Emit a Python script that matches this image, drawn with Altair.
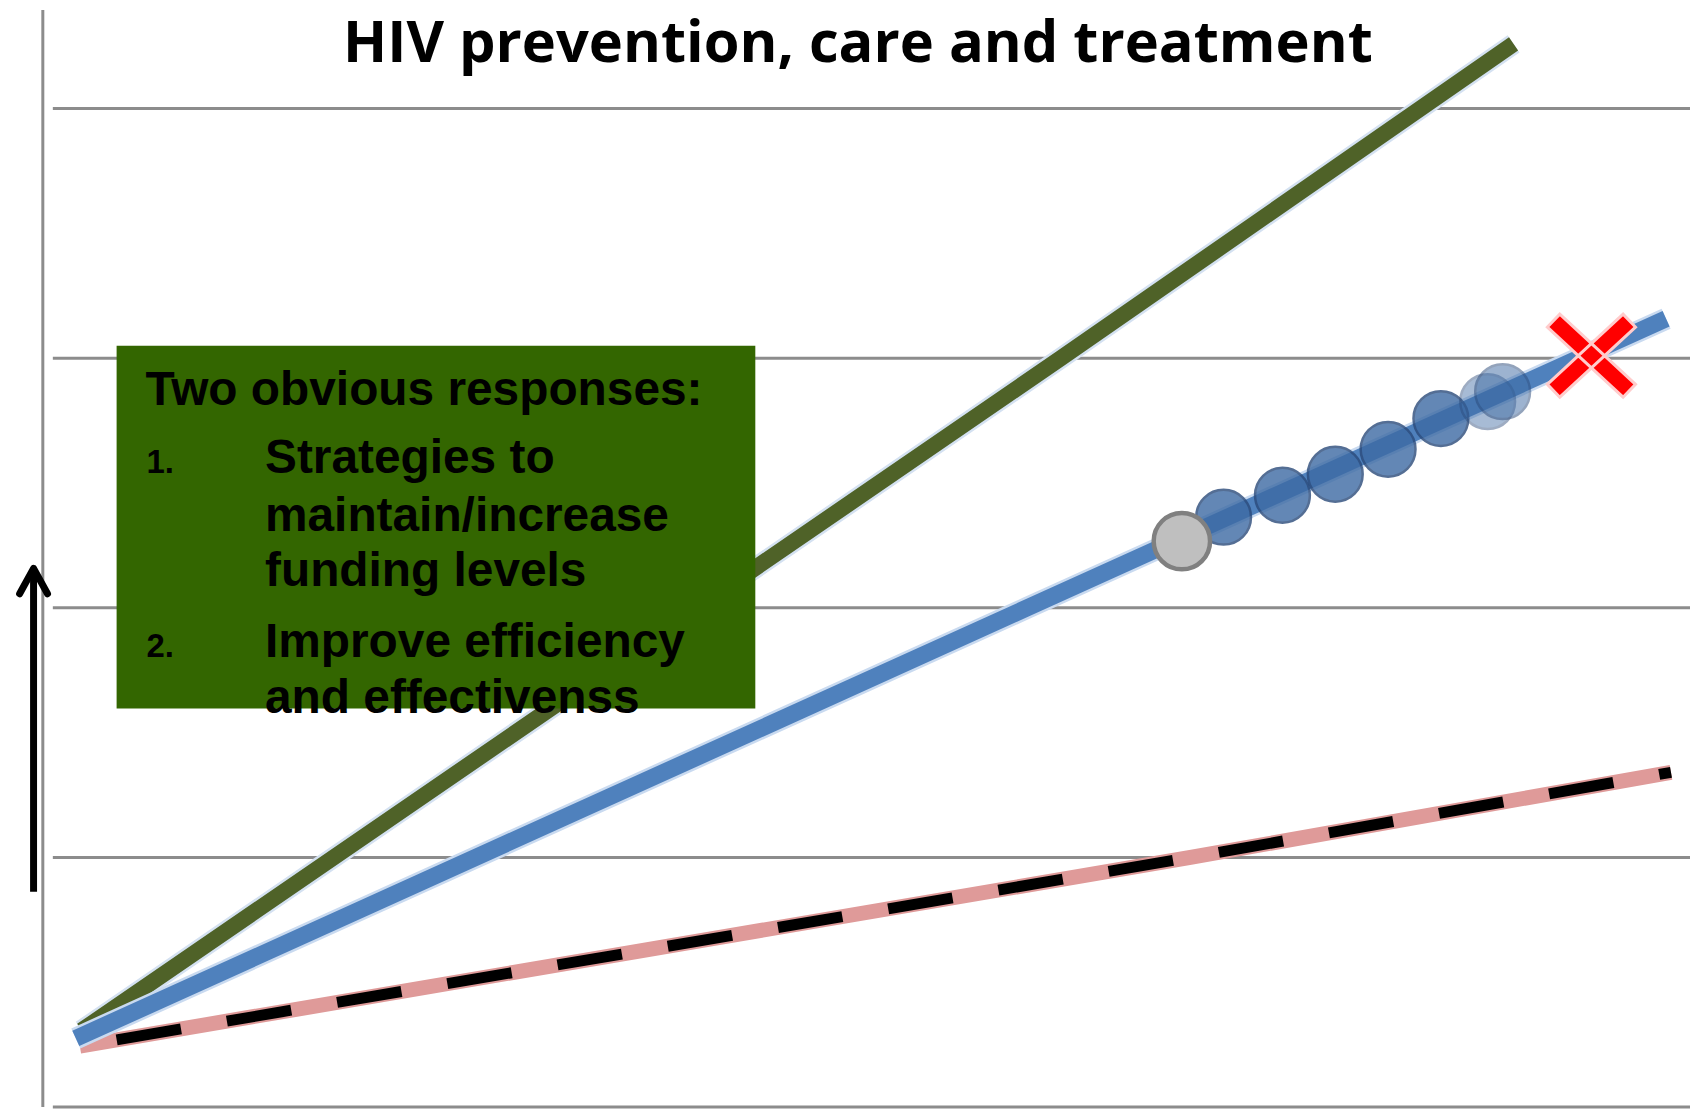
import altair as alt
import pandas as pd

# ---- data (x: time units 0-100, y: funding units) ----
title_text = ["HIV prevention, care and treatment"]
title_x = [50.53]
title_y = [4.188]

grid_y = [0, 1, 2, 3, 4]
grid_x0 = [2.666] * 5
grid_x1 = [100.0] * 5

axis_x = [2.07]
axis_y0 = [0.0]
axis_y1 = [4.395]

arrow_x = [1.52]
arrow_y0 = [0.862]
arrow_y1 = [2.144]
arrow_tip_y = [2.158]

green_x = [4.38, 62.6, 89.51]
green_y = [0.307, 3.0, 4.259]

blue_x = [4.03, 60.6, 98.58]
blue_y = [0.275, 2.0, 3.158]

pink_x = [4.27, 70.3, 98.87]
pink_y = [0.244, 1.0, 1.341]

gray_x = [69.79]
gray_y = [2.267]

dots_x = [72.27, 75.77, 78.91, 82.05, 85.19, 87.97, 88.86]
dots_y = [2.363, 2.451, 2.535, 2.635, 2.758, 2.826, 2.866]
dots_alpha = [0.8, 0.8, 0.8, 0.8, 0.8, 0.45, 0.5]

cross_x = [94.14]
cross_y = [3.010]

box_x0 = [6.457]
box_x1 = [44.43]
box_y0 = [1.597]
box_y1 = [3.050]

head_text = ["Two obvious responses:"]
head_x = [8.175]
head_y = [2.814]

num_text = ["1.", "2."]
num_x = [8.23, 8.23]
num_y = [2.539, 1.804]

item_text = ["Strategies to", "maintain/increase", "funding levels",
             "Improve efficiency", "and effectivenss"]
item_x = [15.28] * 5
item_y = [2.539, 2.307, 2.088, 1.804, 1.577]

# ---- scales ----
XS = alt.Scale(domain=[0, 100], nice=False, zero=False)
YS = alt.Scale(domain=[0, 4.395], nice=False, zero=False)


def X(f="x"):
    return alt.X(f"{f}:Q", scale=XS, axis=None)


def Y(f="y"):
    return alt.Y(f"{f}:Q", scale=YS, axis=None)


grid_df = pd.DataFrame({"y": grid_y, "x": grid_x0, "x2": grid_x1})
axis_df = pd.DataFrame({"x": axis_x, "y": axis_y0, "y2": axis_y1})
arrow_df = pd.DataFrame({"x": arrow_x, "y": arrow_y0, "y2": arrow_y1})
tip_df = pd.DataFrame({"x": arrow_x, "y": arrow_tip_y})
green_df = pd.DataFrame({"x": green_x, "y": green_y})
blue_df = pd.DataFrame({"x": blue_x, "y": blue_y})
pink_df = pd.DataFrame({"x": pink_x, "y": pink_y})
gray_df = pd.DataFrame({"x": gray_x, "y": gray_y})
dots_df = pd.DataFrame({"x": dots_x, "y": dots_y, "a": dots_alpha})
cross_df = pd.DataFrame({"x": cross_x, "y": cross_y})
box_df = pd.DataFrame({"x": box_x0, "x2": box_x1, "y": box_y0, "y2": box_y1})
head_df = pd.DataFrame({"x": head_x, "y": head_y, "t": head_text})
num_df = pd.DataFrame({"x": num_x, "y": num_y, "t": num_text})
item_df = pd.DataFrame({"x": item_x, "y": item_y, "t": item_text})
title_df = pd.DataFrame({"x": title_x, "y": title_y, "t": title_text})

grid = alt.Chart(grid_df).mark_rule(color="#8c8c8c", strokeWidth=3).encode(
    x=X(), x2="x2:Q", y=Y())
axis_line = alt.Chart(axis_df).mark_rule(color="#8c8c8c", strokeWidth=3).encode(
    x=X(), y=Y(), y2="y2:Q")
arrow = alt.Chart(arrow_df).mark_rule(color="black", strokeWidth=7).encode(
    x=X(), y=Y(), y2="y2:Q")
chevron = "M-0.8,1.457L0,0L0.8,1.457"
arrow_tip = alt.Chart(tip_df).mark_point(
    shape=chevron, size=1225, filled=False, color="black", strokeWidth=7,
    strokeCap="round", strokeJoin="round", opacity=1).encode(x=X(), y=Y())

green_glow = alt.Chart(green_df).mark_line(color="#d4e1f1", strokeWidth=21).encode(x=X(), y=Y())
green_line = alt.Chart(green_df).mark_line(color="#4f6228", strokeWidth=16).encode(x=X(), y=Y())
pink_line = alt.Chart(pink_df).mark_line(color="#df9a99", strokeWidth=15).encode(x=X(), y=Y())
black_dash = alt.Chart(pink_df).mark_line(
    color="black", strokeWidth=11, strokeDash=[65.5, 46.7], strokeDashOffset=74.7
).encode(x=X(), y=Y())
blue_glow = alt.Chart(blue_df).mark_line(color="#c9daf0", strokeWidth=22).encode(x=X(), y=Y())
blue_line = alt.Chart(blue_df).mark_line(color="#4f81bd", strokeWidth=17).encode(x=X(), y=Y())

box = alt.Chart(box_df).mark_rect(color="#336600").encode(
    x=X(), x2="x2:Q", y=Y(), y2="y2:Q")

head = alt.Chart(head_df).mark_text(
    align="left", baseline="alphabetic", font="Liberation Sans",
    fontWeight="bold", fontSize=48, color="black").encode(x=X(), y=Y(), text="t:N")
nums = alt.Chart(num_df).mark_text(
    align="left", baseline="alphabetic", font="Liberation Sans",
    fontWeight="bold", fontSize=33, color="black").encode(x=X(), y=Y(), text="t:N")
items = alt.Chart(item_df).mark_text(
    align="left", baseline="alphabetic", font="Liberation Sans",
    fontWeight="bold", fontSize=48, color="black").encode(x=X(), y=Y(), text="t:N")

dots = alt.Chart(dots_df).mark_point(
    shape="circle", filled=True, size=3025, fill="#3d6aa3", stroke="#2a4a7a",
    strokeWidth=2.5).encode(x=X(), y=Y(), opacity=alt.Opacity("a:Q", scale=None, legend=None))
gray = alt.Chart(gray_df).mark_point(
    shape="circle", filled=True, size=3200, fill="#bfbfbf", stroke="#808080",
    strokeWidth=4.5, opacity=1).encode(x=X(), y=Y())

xpath = ("M-1.106,-0.718L0.794,1.042L1.106,0.718L-0.794,-1.042Z"
         "M-0.794,1.042L1.106,-0.718L0.794,-1.042L-1.106,0.718Z")
cross = alt.Chart(cross_df).mark_point(
    shape=xpath, size=6400, filled=True, fill="#ff0000", stroke="#ffcccc",
    strokeWidth=3, opacity=1).encode(x=X(), y=Y())

title = alt.Chart(title_df).mark_text(
    align="center", baseline="alphabetic", font="Open Sans",
    fontWeight="bold", fontSize=58, color="black").encode(x=X(), y=Y(), text="t:N")

chart = alt.layer(
    grid, axis_line, arrow, arrow_tip,
    green_glow, green_line, pink_line, black_dash, blue_glow, blue_line,
    box, head, nums, items, dots, gray, cross, title
).properties(
    width=1688, height=1101,
    padding={"left": 0, "top": 0, "right": 0, "bottom": 2},
    autosize=alt.AutoSizeParams(type="none"),
    background="white",
).configure_view(stroke=None)

chart.save("out.html", embed_options={"renderer": "svg", "actions": False})
